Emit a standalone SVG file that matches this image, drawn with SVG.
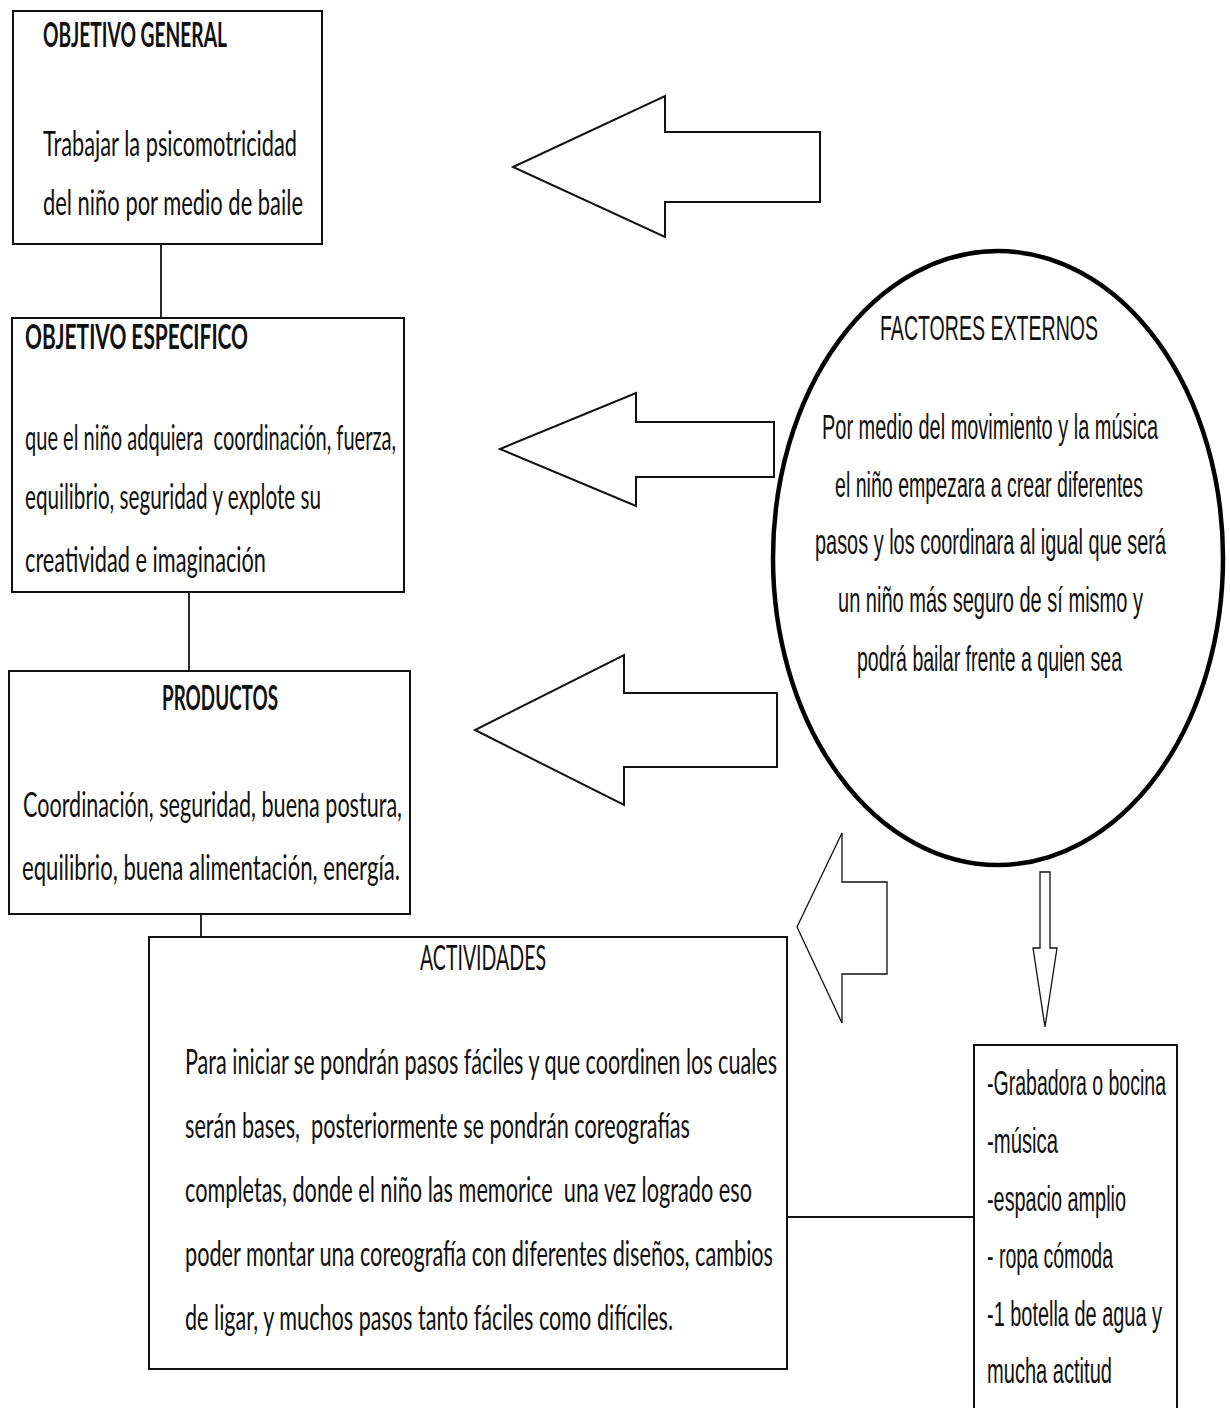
<svg xmlns="http://www.w3.org/2000/svg" width="1230" height="1408" viewBox="0 0 1230 1408">
<style>
.box{fill:#fff;stroke:#111;stroke-width:2}
.ln{stroke:#111;stroke-width:1.8;fill:none}
.arr{fill:none;stroke:#111;stroke-width:2;stroke-linejoin:miter}
.arr-thin{fill:none;stroke:#111;stroke-width:1.3}
.circ{fill:none;stroke:#000;stroke-width:4.5}
.t{font-family:Lato,"Open Sans","Liberation Sans",sans-serif;font-size:35px;fill:#111;white-space:pre}
.tb{font-family:Lato,"Open Sans","Liberation Sans",sans-serif;font-size:34px;font-weight:bold;fill:#111}
.a{font-family:"Liberation Sans Narrow","Liberation Sans",Arial,sans-serif;font-size:35px;fill:#111}
</style>
<rect width="1230" height="1408" fill="#fff"/>
<g id="connectors">
<line class="ln" x1="161" y1="244" x2="161" y2="318"/>
<line class="ln" x1="189" y1="592" x2="189" y2="671"/>
<line class="ln" x1="201" y1="914" x2="201" y2="937"/>
<line class="ln" x1="787" y1="1217" x2="974" y2="1217"/>
<path class="arr" d="M820,132 H665 V96 L513,167 L665,237 V202 H820 Z"/>
<path class="arr" d="M774,422 H636 V393 L500,449 L636,506 V477 H774 Z"/>
<path class="arr" d="M777,693 H624 V655 L475,730 L624,805 V767 H777 Z"/>
<path class="arr-thin" d="M887,882 H842 V833 L797,927 L842,1023 V974 H887 Z"/>
<path class="arr-thin" d="M1040,872 H1050 V948 H1057 L1045,1027 L1033,948 H1040 Z"/>
</g>
<g id="objetivo-general">
<rect class="box" x="13" y="11" width="309" height="233"/>
<text class="tb" x="43" y="47" textLength="184" lengthAdjust="spacingAndGlyphs">OBJETIVO GENERAL</text>
<text class="t" x="43" y="156" textLength="254" lengthAdjust="spacingAndGlyphs">Trabajar la psicomotricidad</text>
<text class="t" x="43" y="215" textLength="260" lengthAdjust="spacingAndGlyphs">del niño por medio de baile</text>
</g>
<g id="objetivo-especifico">
<rect class="box" x="12" y="318" width="392" height="274"/>
<text class="tb" x="25" y="349" textLength="223" lengthAdjust="spacingAndGlyphs">OBJETIVO ESPECIFICO</text>
<text class="t" x="25" y="450" textLength="371" lengthAdjust="spacingAndGlyphs">que el niño adquiera  coordinación, fuerza,</text>
<text class="t" x="25" y="509" textLength="296" lengthAdjust="spacingAndGlyphs">equilibrio, seguridad y explote su</text>
<text class="t" x="25" y="572" textLength="241" lengthAdjust="spacingAndGlyphs">creatividad e imaginación</text>
</g>
<g id="productos">
<rect class="box" x="9" y="671" width="401" height="243"/>
<text class="tb" x="162" y="710" textLength="116" lengthAdjust="spacingAndGlyphs">PRODUCTOS</text>
<text class="t" x="23" y="817" textLength="379" lengthAdjust="spacingAndGlyphs">Coordinación, seguridad, buena postura,</text>
<text class="t" x="22" y="880" textLength="378" lengthAdjust="spacingAndGlyphs">equilibrio, buena alimentación, energía.</text>
</g>
<g id="actividades">
<rect class="box" x="149" y="937" width="638" height="432"/>
<text class="t" x="420" y="970" textLength="126" lengthAdjust="spacingAndGlyphs">ACTIVIDADES</text>
<text class="t" x="185" y="1074" textLength="592" lengthAdjust="spacingAndGlyphs">Para iniciar se pondrán pasos fáciles y que coordinen los cuales</text>
<text class="t" x="185" y="1138" textLength="505" lengthAdjust="spacingAndGlyphs">serán bases,  posteriormente se pondrán coreografías</text>
<text class="t" x="185" y="1202" textLength="567" lengthAdjust="spacingAndGlyphs">completas, donde el niño las memorice  una vez logrado eso</text>
<text class="t" x="185" y="1266" textLength="588" lengthAdjust="spacingAndGlyphs">poder montar una coreografía con diferentes diseños, cambios</text>
<text class="t" x="185" y="1330" textLength="488" lengthAdjust="spacingAndGlyphs">de ligar, y muchos pasos tanto fáciles como difíciles.</text>
</g>
<g id="factores-externos">
<ellipse class="circ" cx="998" cy="558" rx="225" ry="307"/>
<text class="a" x="880" y="340" textLength="218" lengthAdjust="spacingAndGlyphs">FACTORES EXTERNOS</text>
<text class="a" x="822" y="439" textLength="336" lengthAdjust="spacingAndGlyphs">Por medio del movimiento y la música</text>
<text class="a" x="835" y="497" textLength="308" lengthAdjust="spacingAndGlyphs">el niño empezara a crear diferentes</text>
<text class="a" x="815" y="554" textLength="351" lengthAdjust="spacingAndGlyphs">pasos y los coordinara al igual que será</text>
<text class="a" x="838" y="612" textLength="305" lengthAdjust="spacingAndGlyphs">un niño más seguro de sí mismo y</text>
<text class="a" x="857" y="671" textLength="265" lengthAdjust="spacingAndGlyphs">podrá bailar frente a quien sea</text>
</g>
<g id="recursos">
<rect class="box" x="974" y="1045" width="203" height="380"/>
<text class="a" x="987" y="1095" textLength="179" lengthAdjust="spacingAndGlyphs">-Grabadora o bocina</text>
<text class="a" x="987" y="1153" textLength="71" lengthAdjust="spacingAndGlyphs">-música</text>
<text class="a" x="987" y="1211" textLength="139" lengthAdjust="spacingAndGlyphs">-espacio amplio</text>
<text class="a" x="987" y="1268" textLength="126" lengthAdjust="spacingAndGlyphs">- ropa cómoda</text>
<text class="a" x="987" y="1326" textLength="175" lengthAdjust="spacingAndGlyphs">-1 botella de agua y</text>
<text class="a" x="987" y="1383" textLength="125" lengthAdjust="spacingAndGlyphs">mucha actitud</text>
</g>
</svg>
